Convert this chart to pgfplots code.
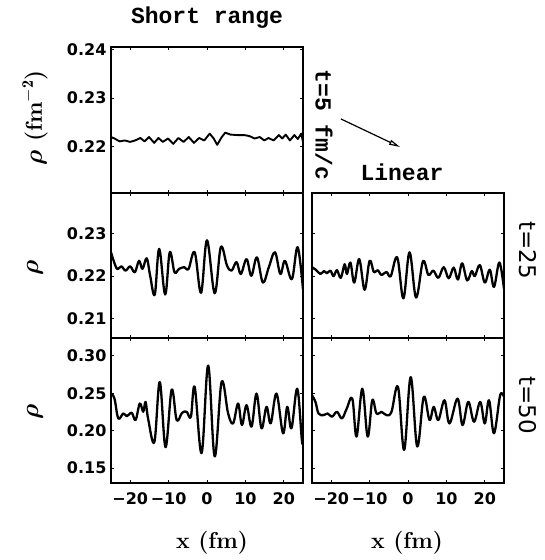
\documentclass[border=0pt]{standalone}
\usepackage{amsmath}
\usepackage{fontspec}
\usepackage{pgfplots}
\pgfplotsset{compat=1.18}
\usetikzlibrary{arrows.meta}
\newfontfamily\dvs{DejaVu Sans}
\newfontfamily\mono{Liberation Mono}
\newcommand\ticfont{\dvs\bfseries\fontsize{16}{19}\selectfont}
\newcommand\bigmono{\mono\bfseries\fontsize{23}{27}\selectfont}
\newcommand\bigser{\bfseries\fontsize{23}{27}\selectfont}
\newcommand\rholab{$\boldsymbol{\rho}$}
\pgfplotsset{panel/.style={scale only axis, width=192pt, xmin=-25, xmax=25,
  anchor=south west, axis line style={line width=1.5pt},
  every tick/.style={line width=0.9pt, black}, tick align=inside, major tick length=3pt,
  xtick={-20,-10,0,10,20}, xticklabels={}, yticklabels={},
  ticklabel style={font=\ticfont}, /pgf/number format/assume math mode=true,
  yticklabel style={xshift=-1pt}, xticklabel style={yshift=-6pt}},
  curve/.style={black, line width=2.3pt, smooth, tension=0.6, line join=round}}
\begin{document}
\begin{tikzpicture}
\useasboundingbox (0pt,0pt) rectangle (544pt,560pt);
% top left (t=5)
\begin{axis}[panel, at={(111pt,367pt)}, height=146pt, ymin=0.2105, ymax=0.2405,
  ytick={0.22,0.23,0.24}, yticklabels={0.22,0.23,0.24}]
\addplot[black, line width=1.9pt, line join=round] table {
-25.0 0.2220
-24.1 0.2217
-22.75 0.2211
-21.4 0.2213
-20.05 0.2210
-18.7 0.2213
-17.35 0.2218
-16.25 0.2211
-15.1 0.2220
-13.75 0.2208
-12.65 0.2218
-11.5 0.2210
-10.15 0.2217
-8.8 0.2206
-7.45 0.2218
-6.1 0.2210
-4.75 0.2220
-3.4 0.2208
-2.05 0.2218
-0.7 0.2213
0.7 0.2227
1.75 0.2217
2.65 0.2204
3.85 0.2220
4.75 0.2229
6.1 0.2225
7.9 0.2224
9.7 0.2224
11.05 0.2222
12.4 0.2217
13.75 0.2220
14.9 0.2213
16.0 0.2218
17.35 0.2213
18.7 0.2224
19.6 0.2217
20.5 0.2225
21.6 0.2213
22.75 0.2224
23.65 0.2216
24.55 0.2227
25.0 0.2210
};
\end{axis}
% middle left (t=25)
\begin{axis}[panel, at={(111pt,222pt)}, height=145pt, ymin=0.2055, ymax=0.2395,
  ytick={0.21,0.22,0.23}, yticklabels={0.21,0.22,0.23}]
\addplot[curve] table {
-25.0 0.2256
-24.3 0.2236
-23.4 0.2217
-22.3 0.2223
-21.2 0.2213
-20.0 0.2223
-18.8 0.2209
-17.7 0.2236
-16.8 0.2217
-15.7 0.2242
-14.8 0.2201
-13.6 0.2157
-12.45 0.2264
-10.9 0.2157
-9.7 0.2256
-8.45 0.2209
-7.3 0.2217
-5.9 0.2221
-4.8 0.2217
-3.2 0.2256
-1.55 0.2161
0.0 0.2284
2.0 0.2160
3.6 0.2268
5.2 0.2225
6.4 0.2213
7.7 0.2233
8.8 0.2205
10.3 0.2240
11.55 0.2201
13.0 0.2244
14.55 0.2185
16.1 0.2221
17.7 0.2256
19.1 0.2205
20.3 0.2236
22.1 0.2193
23.6 0.2268
25.0 0.2169
};
\end{axis}
% bottom left (t=50)
\begin{axis}[panel, at={(111pt,77pt)}, height=145pt, ymin=0.13, ymax=0.324,
  ytick={0.15,0.20,0.25,0.30}, yticklabels={0.15,0.20,0.25,0.30},
  xticklabels={{−20},{−10},0,10,20}]
\addplot[curve] table {
-25.0 0.2496
-24.1 0.2430
-23.1 0.2164
-21.8 0.2231
-20.9 0.2195
-19.6 0.2239
-18.6 0.2142
-17.5 0.2363
-16.6 0.2253
-16.0 0.2385
-15.3 0.2151
-13.7 0.1850
-12.3 0.2651
-10.8 0.1780
-9.2 0.2549
-7.9 0.2142
-6.5 0.2239
-5.3 0.2253
-4.2 0.2186
-3.2 0.2584
-1.4 0.1700
0.3 0.2871
2.0 0.1656
3.8 0.2651
5.5 0.2231
6.8 0.2098
8.1 0.2363
9.1 0.2076
10.3 0.2341
11.6 0.2054
12.9 0.2496
14.2 0.2032
15.5 0.2319
16.6 0.2098
18.1 0.2496
19.8 0.1965
20.9 0.2319
22.0 0.2032
23.5 0.2562
24.7 0.1877
25.0 0.1850
};
\end{axis}
% middle right (t=25)
\begin{axis}[panel, at={(312pt,222pt)}, height=145pt, ymin=0.2055, ymax=0.2395,
  ytick={0.21,0.22,0.23}]
\addplot[curve] table {
-25.0 0.2221
-24.0 0.2215
-22.8 0.2205
-21.9 0.2212
-21.1 0.2207
-20.2 0.2213
-19.4 0.2200
-18.5 0.2214
-17.5 0.2196
-16.5 0.2228
-15.9 0.2205
-15.0 0.2232
-14.0 0.2185
-12.7 0.2240
-11.3 0.2168
-10.0 0.2236
-8.9 0.2210
-7.9 0.2214
-6.9 0.2203
-5.6 0.2210
-4.5 0.2200
-2.8 0.2244
-1.2 0.2148
0.4 0.2256
2.1 0.2150
3.9 0.2235
5.3 0.2203
6.6 0.2213
7.9 0.2196
9.3 0.2221
10.6 0.2195
11.9 0.2220
13.0 0.2192
14.1 0.2230
15.4 0.2190
16.6 0.2212
17.4 0.2200
18.7 0.2226
20.0 0.2185
21.3 0.2215
22.4 0.2175
23.8 0.2232
25.0 0.2170
};
\end{axis}
% bottom right (t=50)
\begin{axis}[panel, at={(312pt,77pt)}, height=145pt, ymin=0.13, ymax=0.324,
  ytick={0.15,0.20,0.25,0.30}, xticklabels={{−20},{−10},0,10,20}]
\addplot[curve] table {
-25.0 0.2473
-24.1 0.2385
-23.3 0.2230
-22.0 0.2208
-20.9 0.2230
-19.8 0.2186
-18.5 0.2252
-17.2 0.2164
-15.95 0.2296
-14.5 0.2429
-13.4 0.1921
-11.9 0.2562
-10.5 0.1921
-9.3 0.2407
-8.2 0.2230
-6.9 0.2252
-5.6 0.2208
-4.3 0.2252
-2.6 0.2584
-1.0 0.1744
0.7 0.2716
2.4 0.1788
4.1 0.2451
5.6 0.2142
6.7 0.2318
7.9 0.2142
9.5 0.2407
10.8 0.2097
12.9 0.2429
14.2 0.2075
15.7 0.2385
17.2 0.2120
18.8 0.2385
20.0 0.2097
21.1 0.2407
22.4 0.1965
24.0 0.2473
25.0 0.2451
};
\end{axis}
% texts
\node at (207pt,542pt) {\bigmono Short range};
\node[rotate=-90] at (324pt,435pt) {\bigmono t=5 fm/c};
\draw[line width=1.2pt, -{Triangle[open, length=11pt, width=5pt]}] (341pt,441pt) -- (400pt,413pt);
\node at (402pt,388pt) {\bigmono Linear};
\node[rotate=-90] at (528pt,310pt) {\dvs\fontsize{23}{27}\selectfont t=25};
\node[rotate=-90] at (528pt,155pt) {\dvs\fontsize{23}{27}\selectfont t=50};
\node[rotate=90] at (35pt,442pt) {\bigser \rholab{} (fm$^{\mathbf{-2}}$)};
\node[rotate=90] at (35pt,292pt) {\bigser \rholab};
\node[rotate=90] at (35pt,148pt) {\bigser \rholab};
\node at (212pt,17pt) {\bigser x (fm)};
\node at (407pt,17pt) {\bigser x (fm)};
\end{tikzpicture}
\end{document}
